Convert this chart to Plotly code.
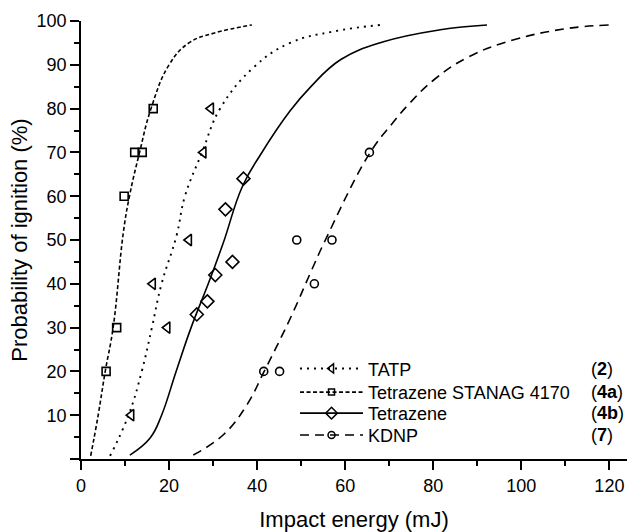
import plotly.graph_objects as go

# ---- measured points ----
tatp_x = [11.4, 16.3, 19.6, 24.5, 27.8, 29.5]
tatp_y = [10, 40, 30, 50, 70, 80]
stanag_x = [5.7, 8.1, 9.8, 12.2, 13.9, 16.4]
stanag_y = [20, 30, 60, 70, 70, 80]
tetra_x = [26.3, 28.7, 30.5, 34.4, 32.8, 36.9]
tetra_y = [33, 36, 42, 45, 57, 64]
kdnp_x = [41.5, 45.1, 53.0, 49.0, 57.0, 65.5]
kdnp_y = [20, 20, 40, 50, 50, 70]

# ---- fitted curves ----
tatp_fit_x = [6.6, 10.8, 13.8, 16.1, 18.3, 21.7, 23.6, 27.5, 31.6, 39.3, 47.5, 57.3, 68.0]
tatp_fit_y = [0.7, 10, 20, 30, 40, 51, 60, 70, 80, 89.5, 95, 97.6, 99.1]
stanag_fit_x = [2.2, 3.9, 5.5, 7.3, 9.6, 11.0, 13.3, 15.9, 20.0, 24.5, 30.1, 38.8]
stanag_fit_y = [0.7, 10, 20, 30, 51.6, 60, 70, 80, 90, 95, 97.2, 99.1]
tetra_fit_x = [11.1, 15.7, 18.3, 21.6, 25.0, 28.9, 32.3, 36.6, 40.9, 47.5, 52.0, 59.0, 68.5, 81.6, 92.2]
tetra_fit_y = [0.9, 4.8, 10, 20, 30, 40, 49.3, 62.1, 69.7, 79.5, 84.8, 91.2, 95.2, 98.0, 99.1]
kdnp_fit_x = [25.5, 32.4, 37.7, 41.6, 47.8, 52.1, 55.5, 65.5, 70.6, 74.8, 80.3, 88.2, 98.3, 110.5, 120.2]
kdnp_fit_y = [0.9, 5.6, 12.4, 20, 32.7, 42.5, 50, 69.7, 76.5, 81.4, 86.7, 91.9, 95.7, 98.3, 99.1]

names = ["TATP", "Tetrazene STANAG 4170", "Tetrazene", "KDNP"]
refs = ["(<b>2</b>)", "(<b>4a</b>)", "(<b>4b</b>)", "(<b>7</b>)"]

K = "black"
FAM = "Liberation Sans, Arial, sans-serif"
dashes = ["2px,5px", "4px,2.5px", "solid", "9px,6px"]
widths = [1.9, 1.6, 1.6, 1.6]
symbols = ["triangle-left-open", "square-open", "diamond-open", "circle-open"]
msize = [10, 8, 10, 8]
lsize = [8, 6, 9, 7]

pts = [(tatp_x, tatp_y), (stanag_x, stanag_y), (tetra_x, tetra_y), (kdnp_x, kdnp_y)]
fits = [(tatp_fit_x, tatp_fit_y), (stanag_fit_x, stanag_fit_y),
        (tetra_fit_x, tetra_fit_y), (kdnp_fit_x, kdnp_fit_y)]
legend_ids = ["legend", "legend2", "legend3", "legend4"]
row_y = [0.206, 0.152, 0.104, 0.054]   # legend row centres (paper fraction)

fig = go.Figure()
for i in range(4):
    fx, fy = fits[i]
    fig.add_trace(go.Scatter(x=fx, y=fy, mode="lines", showlegend=False,
                             line=dict(color=K, width=widths[i], dash=dashes[i],
                                       shape="spline", smoothing=1.2),
                             hoverinfo="skip"))
    px, py = pts[i]
    fig.add_trace(go.Scatter(x=px, y=py, mode="markers", showlegend=False,
                             marker=dict(symbol=symbols[i], size=msize[i], color=K,
                                         line=dict(color=K, width=1.6))))
for i in range(4):
    fig.add_trace(go.Scatter(x=[None], y=[None], mode="lines+markers", name=names[i],
                             legend=legend_ids[i],
                             line=dict(color=K, width=widths[i], dash=dashes[i]),
                             marker=dict(symbol=symbols[i], size=lsize[i], color=K,
                                         line=dict(color=K, width=1.5))))

for i in range(4):
    fig.add_annotation(x=0.930, y=row_y[i], xref="paper", yref="paper", text=refs[i],
                       showarrow=False, xanchor="left", yanchor="middle",
                       font=dict(size=18, color=K, family=FAM))

legends = {}
for i in range(4):
    legends[legend_ids[i]] = dict(x=0.392, y=row_y[i], xanchor="left", yanchor="middle",
                                  bgcolor="rgba(0,0,0,0)", font=dict(size=18, color=K, family=FAM),
                                  itemwidth=63)

fig.update_layout(
    width=630, height=532,
    margin=dict(l=81, r=3, t=21, b=69),
    paper_bgcolor="white", plot_bgcolor="white",
    font=dict(family=FAM, color=K, size=17),
    xaxis=dict(range=[0, 124], tickvals=[0, 20, 40, 60, 80, 100, 120],
               ticks="outside", ticklen=9, tickwidth=1.5, tickcolor=K,
               minor=dict(ticks="outside", ticklen=5, tickwidth=1.5, tickcolor=K, dtick=10, tick0=0),
               showline=True, linecolor=K, linewidth=1.8, showgrid=False, zeroline=False,
               tickfont=dict(size=18),
               title=dict(text="Impact energy (mJ)", font=dict(size=22), standoff=18)),
    yaxis=dict(range=[0, 100], tickvals=[0, 10, 20, 30, 40, 50, 60, 70, 80, 90, 100],
               ticktext=["", "10", "20", "30", "40", "50", "60", "70", "80", "90", "100"],
               ticks="outside", ticklen=9, tickwidth=1.5, tickcolor=K,
               minor=dict(ticks="outside", ticklen=5, tickwidth=1.5, tickcolor=K, dtick=5, tick0=0),
               showline=True, linecolor=K, linewidth=1.8, showgrid=False, zeroline=False,
               tickfont=dict(size=18),
               title=dict(text="Probability of ignition (%)", font=dict(size=22), standoff=3)),
    **legends,
)
fig.write_html("out.html", config={"displayModeBar": False},
               post_script="document.body.style.margin='0';")
